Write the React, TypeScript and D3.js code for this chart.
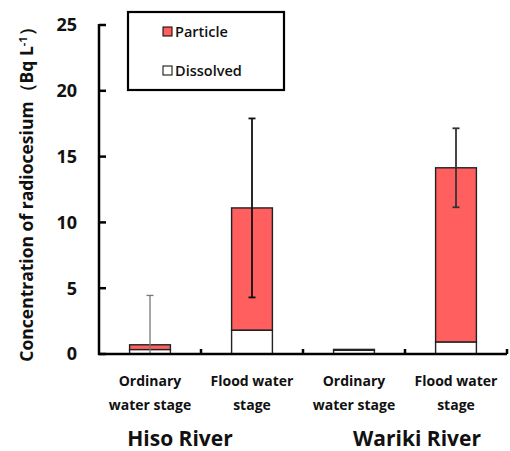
import React from "react";
import * as d3 from "d3";

const categories = ["Hiso-Ordinary", "Hiso-Flood", "Wariki-Ordinary", "Wariki-Flood"];
const categoryLines = [
  ["Ordinary", "water stage"],
  ["Flood water", "stage"],
  ["Ordinary", "water stage"],
  ["Flood water", "stage"],
];
const dissolved = [0.33, 1.8, 0.28, 0.9];
const particle = [0.37, 9.3, 0.07, 13.25];
const errorHalf = [3.75, 6.8, 0, 3.0];
const errorColor = ["#777", "#111", "#111", "#333"];
const groups = ["Hiso River", "Wariki River"];
const groupCenters = [180, 417];
const yTicks = [0, 5, 10, 15, 20, 25];
const legendItems = ["Particle", "Dissolved"];
const legendColors = ["#FF5F5F", "#FFFFFF"];

const W = 510, H = 451;
const left = 99, right = 507, top = 25, bottom = 354;

export default function App() {
  const x = d3.scaleBand<string>().domain(categories).range([left, right]).paddingInner(0.6).paddingOuter(0.3);
  const band = d3.scaleBand<string>().domain(categories).range([left, right]);
  const y = d3.scaleLinear().domain([0, 25]).range([bottom, top]);
  const font = "'Open Sans', Lato, sans-serif";
  const totals = categories.map((_, i) => dissolved[i] + particle[i]);

  return (
    <svg width={W} height={H} style={{ position: "absolute", left: 0, top: 0, background: "#fff" }} fontFamily={font}>
      {/* bars */}
      {categories.map((c, i) => {
        const x0 = x(c)!;
        const bw = x.bandwidth();
        return (
          <g key={c}>
            <rect x={x0} y={y(totals[i])} width={bw} height={y(dissolved[i]) - y(totals[i])} fill={legendColors[0]} stroke="#222" strokeWidth={1.4} />
            <rect x={x0} y={y(dissolved[i])} width={bw} height={y(0) - y(dissolved[i])} fill={legendColors[1]} stroke="#222" strokeWidth={1.4} />
          </g>
        );
      })}
      {/* error bars */}
      {categories.map((c, i) => {
        if (!errorHalf[i]) return null;
        const cx = x(c)! + x.bandwidth() / 2;
        const hi = y(totals[i] + errorHalf[i]);
        const lo = y(Math.max(0, totals[i] - errorHalf[i]));
        const showLo = totals[i] - errorHalf[i] > 0;
        return (
          <g key={"e" + c} stroke={errorColor[i]} strokeWidth={i === 0 ? 1.3 : 1.8}>
            <line x1={cx} x2={cx} y1={hi} y2={lo} />
            <line x1={cx - 3.5} x2={cx + 3.5} y1={hi} y2={hi} />
            {showLo && <line x1={cx - 3.5} x2={cx + 3.5} y1={lo} y2={lo} />}
          </g>
        );
      })}
      {/* y axis */}
      <line x1={left} x2={left} y1={top - 1} y2={bottom + 1} stroke="#000" strokeWidth={2.5} />
      {yTicks.map((t) => (
        <g key={t}>
          <line x1={left} x2={left + 7} y1={y(t)} y2={y(t)} stroke="#000" strokeWidth={2.5} />
          <text x={77} y={y(t)} dy="0.36em" textAnchor="end" fontSize={18} fontWeight={700} fill="#111">{t}</text>
        </g>
      ))}
      {/* x axis */}
      <line x1={left - 1} x2={right} y1={bottom} y2={bottom} stroke="#000" strokeWidth={2.5} />
      {categories.map((c) => {
        const bx = band(c)! + band.bandwidth();
        return <line key={"t" + c} x1={bx} x2={bx} y1={bottom} y2={bottom - 5} stroke="#000" strokeWidth={2.5} />;
      })}
      {/* category labels */}
      {categories.map((c, i) => {
        const cx = band(c)! + band.bandwidth() / 2;
        return (
          <text key={"l" + c} x={cx} textAnchor="middle" fontSize={14} fontWeight={700} fill="#111">
            <tspan x={cx} y={386}>{categoryLines[i][0]}</tspan>
            <tspan x={cx} y={410}>{categoryLines[i][1]}</tspan>
          </text>
        );
      })}
      {/* group labels */}
      {groups.map((g, gi) => (
        <text key={g} x={groupCenters[gi]} y={446} textAnchor="middle" fontSize={21} fontWeight={700} fill="#111">{g}</text>
      ))}
      {/* y title */}
      <text transform={`translate(33,${190}) rotate(-90)`} textAnchor="middle" fontSize={17.5} fontWeight={700} fill="#111">
        Concentration of radiocesium（Bq L<tspan dy={-6} fontSize={11}>-1</tspan><tspan dy={6}>）</tspan>
      </text>
      {/* legend */}
      <rect x={128} y={12} width={156} height={78} fill="#fff" stroke="#000" strokeWidth={2.2} />
      {legendItems.map((item, i) => (
        <g key={item}>
          <rect x={163} y={27 + i * 39} width={9} height={9} fill={legendColors[i]} stroke="#000" strokeWidth={1} />
          <text x={175} y={31.5 + i * 39} dy="0.36em" fontSize={14.5} fill="#111" fontWeight={600}>{item}</text>
        </g>
      ))}
    </svg>
  );
}
